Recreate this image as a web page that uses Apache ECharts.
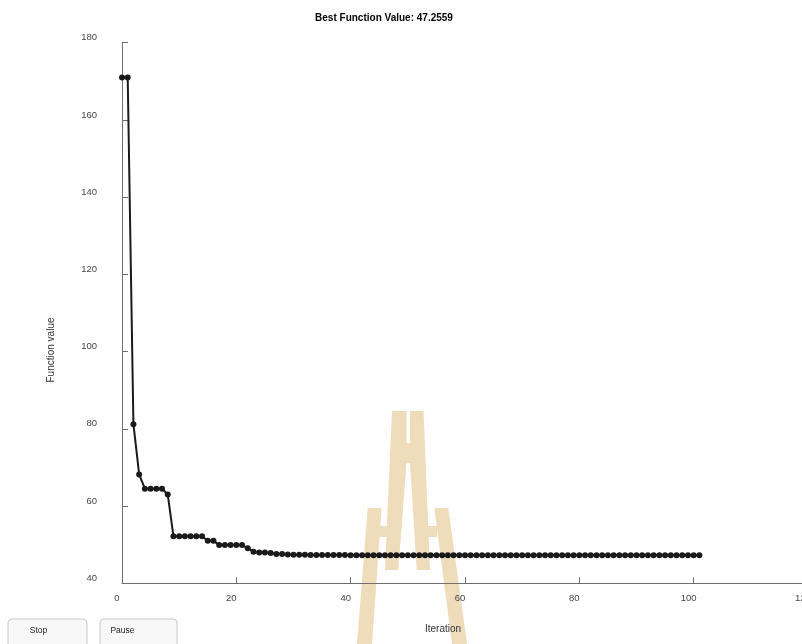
<!DOCTYPE html>
<html>
<head>
<meta charset="utf-8">
<script src="https://cdn.jsdelivr.net/npm/echarts@6/dist/echarts.min.js"></script>
<style>
html,body{margin:0;padding:0;background:#fff;}
#chart{width:802px;height:644px;}
</style>
</head>
<body>
<div id="chart"></div>
<script>
// Best function value per iteration (index = iteration, starting at 0)
var bestValues = [
  171.0, 171.0, 81.2, 68.2, 64.5, 64.5, 64.5, 64.5, 63.0, 52.2,
  52.2, 52.2, 52.2, 52.2, 52.2, 51.0, 51.0, 49.9, 49.9, 49.9,
  49.9, 49.9, 49.1, 48.2, 48.0, 48.0, 47.85, 47.6, 47.6, 47.45,
  47.42, 47.4, 47.38, 47.36, 47.34, 47.33, 47.32, 47.31, 47.3, 47.3,
  47.29, 47.29, 47.28, 47.28, 47.28, 47.28, 47.27, 47.27, 47.27, 47.27,
  47.27, 47.27, 47.27, 47.27, 47.27, 47.26, 47.26, 47.26, 47.26, 47.26,
  47.26, 47.26, 47.26, 47.26, 47.26, 47.26, 47.26, 47.26, 47.26, 47.26,
  47.26, 47.26, 47.26, 47.26, 47.26, 47.26, 47.26, 47.26, 47.26, 47.26,
  47.26, 47.26, 47.26, 47.26, 47.26, 47.26, 47.26, 47.26, 47.26, 47.26,
  47.2559, 47.2559, 47.2559, 47.2559, 47.2559, 47.2559, 47.2559, 47.2559, 47.2559, 47.2559,
  47.2559, 47.2559
];
var xTicks = [0, 20, 40, 60, 80, 100, 120];
var yTicks = [40, 60, 80, 100, 120, 140, 160, 180];
var titleText = 'Best Function Value: 47.2559';
var xName = 'Iteration';
var yName = 'Function value';
var buttonLabels = ['Stop', 'Pause'];

var seriesData = bestValues.map(function (v, i) { return [i, v]; });

var chart = echarts.init(document.getElementById('chart'), null, {renderer: 'canvas'});
var wm = '#eedcbb';
var axisCol = '#6e6e6e';
var labelCol = '#444';
var font = 'Liberation Sans, Arial, sans-serif';

var graphics = [
  // watermark (background decoration)
  {type:'polygon', z:-10, silent:true, shape:{points:[[392,411],[406.5,411],[406.5,463],[398.3,570],[385,570]]}, style:{fill:wm}},
  {type:'polygon', z:-10, silent:true, shape:{points:[[410,411],[423.5,411],[430,570],[416.7,570],[410,463]]}, style:{fill:wm}},
  {type:'rect', z:-10, silent:true, shape:{x:406,y:443,width:4.5,height:20}, style:{fill:wm}},
  {type:'polygon', z:-10, silent:true, shape:{points:[[367.7,508],[381.7,508],[372,644],[357,644]]}, style:{fill:wm}},
  {type:'polygon', z:-10, silent:true, shape:{points:[[434.3,508],[448.3,508],[467,644],[452,644]]}, style:{fill:wm}},
  {type:'rect', z:-10, silent:true, shape:{x:379,y:526,width:10,height:11}, style:{fill:wm}},
  {type:'rect', z:-10, silent:true, shape:{x:426,y:526,width:11,height:11}, style:{fill:wm}},
  // title
  {type:'text', x:384, y:18, style:{text:titleText, fontSize:10, fontWeight:'bold', fontFamily:font, fill:'#000', align:'center', verticalAlign:'middle'}},
  // axis names
  {type:'text', x:51, y:350, rotation:Math.PI/2, style:{text:yName, fontSize:10, fontFamily:font, fill:'#333', align:'center', verticalAlign:'middle'}},
  {type:'text', x:443, y:629, style:{text:xName, fontSize:10, fontFamily:font, fill:'#333', align:'center', verticalAlign:'middle'}},
  // buttons
  {type:'rect', x:8, y:619, shape:{width:79, height:40, r:4}, style:{fill:'#f8f8f8', stroke:'#c8c8c8', lineWidth:1}},
  {type:'text', x:38.5, y:631, style:{text:buttonLabels[0], fontSize:8.5, fontFamily:font, fill:'#222', align:'center', verticalAlign:'middle'}},
  {type:'rect', x:100, y:619, shape:{width:77, height:40, r:4}, style:{fill:'#f8f8f8', stroke:'#c8c8c8', lineWidth:1}},
  {type:'text', x:122.5, y:631, style:{text:buttonLabels[1], fontSize:8.5, fontFamily:font, fill:'#222', align:'center', verticalAlign:'middle'}}
];

chart.setOption({
  animation: false,
  backgroundColor: '#fff',
  grid: {left: 122, top: 42.7, width: 686, height: 540.6, containLabel: false, outerBoundsMode: 'none'},
  xAxis: {
    type: 'value', min: xTicks[0], max: xTicks[xTicks.length-1], interval: 20,
    axisLine: {show: true, lineStyle: {color: axisCol, width: 1}},
    axisTick: {show: true, inside: true, length: 6, lineStyle: {color: axisCol}},
    axisLabel: {color: labelCol, fontSize: 9.5, fontFamily: font, margin: 10, padding: [0, 10, 0, 0], hideOverlap: false},
    splitLine: {show: false}
  },
  yAxis: {
    type: 'value', min: yTicks[0], max: yTicks[yTicks.length-1], interval: 20,
    axisLine: {show: true, lineStyle: {color: axisCol, width: 1}},
    axisTick: {show: true, inside: true, length: 6, lineStyle: {color: axisCol}},
    axisLabel: {color: labelCol, fontSize: 9.5, fontFamily: font, margin: 25, verticalAlign: 'bottom', hideOverlap: false},
    splitLine: {show: false}
  },
  series: [{
    type: 'line',
    data: seriesData,
    symbol: 'circle',
    symbolSize: 6,
    showSymbol: true,
    lineStyle: {color: '#1a1a1a', width: 2},
    itemStyle: {color: '#1a1a1a'},
    z: 5
  }],
  graphic: graphics
});
</script>
</body>
</html>
